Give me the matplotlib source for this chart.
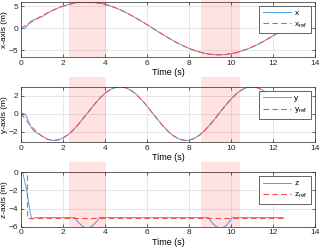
import matplotlib
matplotlib.use("Agg")
import matplotlib.pyplot as plt

# time samples (s)
t = [0, 0.1, 0.2, 0.3, 0.4, 0.5, 0.6, 0.75, 1.0, 1.25, 1.5, 1.75, 2.0, 2.25, 2.5,
     2.75, 3.0, 3.25, 3.5, 3.75, 4.0, 4.25, 4.5, 4.75, 5.0, 5.25, 5.5, 5.75, 6.0,
     6.25, 6.5, 6.75, 7.0, 7.25, 7.5, 7.75, 8.0, 8.25, 8.5, 8.75, 9.0, 9.25, 9.5,
     9.75, 10.0, 10.25, 10.5, 10.75, 11.0, 11.25, 11.5, 11.75, 12.0, 12.25, 12.5]

x_ref = [0, 0.30, 0.60, 0.90, 1.19, 1.48, 1.77, 2.20, 2.88, 3.51, 4.09, 4.61, 5.05, 5.41, 5.69,
         5.89, 5.99, 5.99, 5.90, 5.72, 5.46, 5.10, 4.67, 4.16, 3.59, 2.96, 2.29, 1.58, 0.85,
         0.10, -0.65, -1.39, -2.11, -2.79, -3.43, -4.02, -4.54, -4.99, -5.37, -5.66, -5.87, -5.98, -6.00,
         -5.92, -5.75, -5.50, -5.15, -4.73, -4.23, -3.67, -3.05, -2.38, -1.68, -0.95, -0.20]
x_act = [0, 0.0, 0.05, 0.6, 1.3, 1.7, 1.95, 2.15, 2.65, 3.40, 4.05, 4.60, 5.05, 5.41, 5.69,
         5.89, 5.99, 5.99, 5.90, 5.72, 5.46, 5.10, 4.67, 4.16, 3.59, 2.96, 2.29, 1.58, 0.85,
         0.10, -0.65, -1.39, -2.11, -2.79, -3.43, -4.02, -4.54, -4.99, -5.37, -5.66, -5.87, -5.98, -6.00,
         -5.92, -5.75, -5.50, -5.15, -4.73, -4.23, -3.67, -3.05, -2.38, -1.68, -0.95, -0.20]

y_ref = [0, -0.30, -0.60, -0.89, -1.17, -1.44, -1.69, -2.05, -2.52, -2.85, -2.99, -2.95, -2.73, -2.33, -1.80,
         -1.15, -0.42, 0.32, 1.05, 1.72, 2.27, 2.69, 2.93, 3.00, 2.88, 2.58, 2.12, 1.53, 0.84,
         0.10, -0.65, -1.35, -1.97, -2.47, -2.81, -2.98, -2.97, -2.77, -2.40, -1.87, -1.24, -0.52, 0.23,
         0.96, 1.63, 2.21, 2.64, 2.91, 3.00, 2.90, 2.63, 2.19, 1.61, 0.93, 0.20]
y_act = [0, 0.02, -0.05, -0.50, -1.10, -1.60, -1.90, -2.15, -2.50, -2.85, -2.99, -2.95, -2.73, -2.33, -1.80,
         -1.15, -0.42, 0.32, 1.05, 1.72, 2.27, 2.69, 2.93, 3.00, 2.88, 2.58, 2.12, 1.53, 0.84,
         0.10, -0.65, -1.35, -1.97, -2.47, -2.81, -2.98, -2.97, -2.77, -2.40, -1.87, -1.24, -0.52, 0.23,
         0.96, 1.63, 2.21, 2.64, 2.91, 3.00, 2.90, 2.63, 2.19, 1.61, 0.93, 0.20]

# z reference (step) and measured z with the two dips
tz_ref = [0, 0.27, 0.27, 12.5]
z_ref = [0, 0, -5, -5]
tz_act = [0, 0.08, 0.27, 0.45, 0.52, 0.6, 0.75, 2.57, 2.7, 2.85, 3.0, 3.15, 3.3, 3.45, 3.6, 3.73,
          8.92, 9.05, 9.2, 9.35, 9.5, 9.65, 9.8, 9.92, 10.03, 12.5]
z_act = [0, 0, -2.0, -4.6, -5.2, -5.05, -5.0, -5.0, -5.45, -5.8, -6.05, -6.15, -6.05, -5.8, -5.45, -5.0,
         -5.0, -5.45, -5.8, -6.05, -6.15, -6.05, -5.8, -5.45, -5.0, -5.0]

# shaded intervals (s)
spans = [(2.28, 4.07), (8.58, 10.42)]

blue = "#4aa3e8"
red = "#ff4d4d"

plt.rcParams["font.family"] = ["Liberation Sans", "DejaVu Sans"]
plt.rcParams["font.size"] = 6
plt.rcParams["mathtext.fontset"] = "custom"
plt.rcParams["mathtext.rm"] = "Liberation Sans"

fig = plt.figure(figsize=(3.2, 2.49), dpi=100)
pos = [[0.0656, 0.771, 0.919, 0.222],
       [0.0656, 0.4285, 0.919, 0.223],
       [0.0656, 0.0896, 0.919, 0.219]]

panels = [
    (t, x_act, t, x_ref, "x", r"x$_{\rm ref}$", "x-axis (m)", (-6.5, 6.05), [-5, 0, 5]),
    (t, y_act, t, y_ref, "y", r"y$_{\rm ref}$", "y-axis (m)", (-3.2, 3.0), [-2, 0, 2]),
    (tz_act, z_act, tz_ref, z_ref, "z", r"z$_{\rm ref}$", "z-axis (m)", (-6, 0), [-6, -4, -2, 0]),
]

for p, (ta, va, tr, vr, lab, labr, ylab, ylim, yt) in zip(pos, panels):
    ax = fig.add_axes(p)
    ax.plot(ta, va, color=blue, lw=0.7, label=lab)
    ax.plot(tr, vr, color=red, lw=0.8, ls=(0, (5, 3)), label=labr)
    for a, b in spans:
        ax.axvspan(a, b, ymin=0, ymax=1.18, color="red", alpha=0.11, lw=0,
                   clip_on=False, zorder=5)
    ax.set_xlim(0, 14)
    ax.set_ylim(*ylim)
    ax.set_xticks(range(0, 15, 2))
    ax.set_yticks(yt)
    ax.grid(True, color="#dddddd", lw=0.5)
    ax.set_axisbelow(True)
    ax.tick_params(direction="in", top=True, right=True, length=2, width=0.5,
                   pad=2, labelsize=6, colors="#262626")
    for s in ax.spines.values():
        s.set_color("#262626")
        s.set_linewidth(0.5)
    ax.set_xlabel("Time (s)", fontsize=6.5, labelpad=1)
    ax.set_ylabel(ylab, fontsize=6)
    ax.yaxis.set_label_coords(-0.045, 0.5)
    leg = ax.legend(loc="upper right", fontsize=6, handlelength=3.4,
                    fancybox=False, framealpha=1, borderaxespad=0.5,
                    borderpad=0.4, labelspacing=0.4, handletextpad=0.4)
    leg.get_frame().set_edgecolor("#262626")
    leg.get_frame().set_linewidth(0.5)
    leg.set_zorder(10)

fig.savefig("out.png", dpi=100)
